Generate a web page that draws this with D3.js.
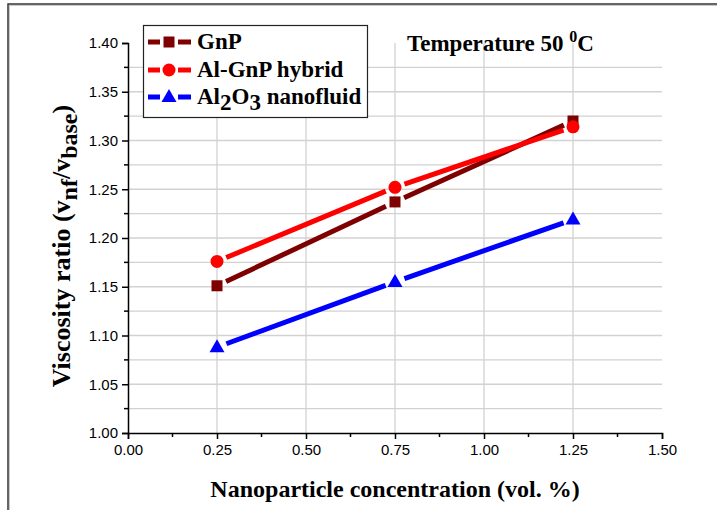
<!DOCTYPE html>
<html><head><meta charset="utf-8">
<script src="https://cdn.jsdelivr.net/npm/d3@7"></script>
<style>body{margin:0;background:#fff}svg{display:block}</style>
</head><body>
<svg id="c" width="717" height="510"></svg>
<script>
const xValues = [0.25, 0.75, 1.25];
const gnp = [1.151, 1.237, 1.320];
const hybrid = [1.176, 1.252, 1.314];
const al2o3 = [1.088, 1.155, 1.219];
const xTicks = [0, 0.25, 0.5, 0.75, 1.0, 1.25, 1.5];
const yTicks = [1.00, 1.05, 1.10, 1.15, 1.20, 1.25, 1.30, 1.35, 1.40];

const series = [
  {name: "GnP", values: gnp, color: "#7f0000", shape: "square"},
  {name: "Al-GnP hybrid", values: hybrid, color: "#ff0000", shape: "circle"},
  {name: "Al2O3", values: al2o3, color: "#0000ff", shape: "triangle"}
];

const svg = d3.select("#c");
const x = d3.scaleLinear().domain([0, 1.5]).range([128, 662]);
const y = d3.scaleLinear().domain([1.0, 1.4]).range([433, 43]);
const serif = "Liberation Serif, Times New Roman, serif";

// outer frame
svg.append("rect").attr("x", 9.5).attr("y", 5.5).attr("width", 800).attr("height", 600)
  .attr("fill", "none").attr("stroke", "#c8c8c8").attr("stroke-width", 1);
svg.append("rect").attr("x", 8).attr("y", 4).attr("width", 800).attr("height", 600)
  .attr("fill", "none").attr("stroke", "#333").attr("stroke-width", 1.5);

// gridlines
const hGrid = d3.range(1.025, 1.39, 0.025);
svg.append("g").selectAll("line").data(hGrid).join("line")
  .attr("x1", x(0)).attr("x2", x(1.5))
  .attr("y1", d => y(d)).attr("y2", d => y(d))
  .attr("stroke", "#d2d2d2").attr("stroke-width", 1.3);
const vGrid = [0.25, 0.5, 0.75, 1.0, 1.25];
svg.append("g").selectAll("line").data(vGrid).join("line")
  .attr("y1", y(1.0)).attr("y2", y(1.4))
  .attr("x1", d => x(d)).attr("x2", d => x(d))
  .attr("stroke", "#d2d2d2").attr("stroke-width", 1.3);

// axes
const xAxis = d3.axisBottom(x).tickValues(xTicks).tickFormat(d3.format(".2f")).tickSize(6).tickPadding(5);
const yAxis = d3.axisLeft(y).tickValues(yTicks).tickFormat(d3.format(".2f")).tickSize(6).tickPadding(4);
const gx = svg.append("g").attr("transform", `translate(0,${y(1.0)})`).call(xAxis);
const gy = svg.append("g").attr("transform", `translate(${x(0)},0)`).call(yAxis);
[gx, gy].forEach(g => {
  g.select(".domain").attr("stroke", "#000").attr("stroke-width", 1.5);
  g.selectAll(".tick line").attr("stroke", "#000").attr("stroke-width", 1.5);
  g.selectAll(".tick text").attr("font-family", "Liberation Sans, Arial, sans-serif")
    .attr("font-size", 15).attr("fill", "#000");
});
// minor ticks
svg.append("g").selectAll("line").data(d3.range(0.125, 1.5, 0.25)).join("line")
  .attr("x1", d => x(d)).attr("x2", d => x(d))
  .attr("y1", y(1.0)).attr("y2", y(1.0) + 4)
  .attr("stroke", "#000").attr("stroke-width", 1.5);
svg.append("g").selectAll("line").data(d3.range(1.025, 1.4, 0.05)).join("line")
  .attr("y1", d => y(d)).attr("y2", d => y(d))
  .attr("x1", x(0)).attr("x2", x(0) - 4)
  .attr("stroke", "#000").attr("stroke-width", 1.5);

// marker drawing
function marker(g, shape, color, cx, cy) {
  if (shape === "square") {
    g.append("rect").attr("x", cx - 5.5).attr("y", cy - 5.5).attr("width", 11).attr("height", 11).attr("fill", color);
  } else if (shape === "circle") {
    g.append("circle").attr("cx", cx).attr("cy", cy).attr("r", 6.5).attr("fill", color);
  } else {
    g.append("path").attr("d", `M${cx},${cy - 8}L${cx + 7.5},${cy + 5}L${cx - 7.5},${cy + 5}Z`).attr("fill", color);
  }
}

const gap = 10;
series.forEach(s => {
  const g = svg.append("g");
  const pts = xValues.map((xv, i) => [x(xv), y(s.values[i])]);
  for (let i = 0; i < pts.length - 1; i++) {
    const [x1, y1] = pts[i], [x2, y2] = pts[i + 1];
    const dx = x2 - x1, dy = y2 - y1, L = Math.hypot(dx, dy);
    const ux = dx / L, uy = dy / L;
    g.append("line")
      .attr("x1", x1 + ux * gap).attr("y1", y1 + uy * gap)
      .attr("x2", x2 - ux * gap).attr("y2", y2 - uy * gap)
      .attr("stroke", s.color).attr("stroke-width", 5);
  }
  pts.forEach(p => marker(g, s.shape, s.color, p[0], p[1]));
});

// legend
const lg = svg.append("g");
lg.append("rect").attr("x", 143.5).attr("y", 25.5).attr("width", 224).attr("height", 92)
  .attr("fill", "#fff").attr("stroke", "#222").attr("stroke-width", 1.2);
const rowY = [42, 70, 97];
series.forEach((s, i) => {
  const cy = rowY[i];
  lg.append("line").attr("x1", 148).attr("x2", 160).attr("y1", cy).attr("y2", cy).attr("stroke", s.color).attr("stroke-width", 5);
  lg.append("line").attr("x1", 178).attr("x2", 191).attr("y1", cy).attr("y2", cy).attr("stroke", s.color).attr("stroke-width", 5);
  marker(lg, s.shape, s.color, 169, cy);
  const t = lg.append("text").attr("x", 197).attr("y", cy + 7)
    .attr("font-family", serif).attr("font-weight", "bold")
    .attr("font-size", 23).attr("fill", "#000");
  if (s.name === "Al2O3") {
    t.append("tspan").text("Al");
    t.append("tspan").attr("dy", 6).text("2");
    t.append("tspan").attr("dy", -6).text("O");
    t.append("tspan").attr("dy", 6).text("3");
    t.append("tspan").attr("dy", -6).text(" nanofluid");
  } else {
    t.text(s.name);
  }
});

// title
const tt = svg.append("text").attr("x", 407).attr("y", 51)
  .attr("font-family", serif).attr("font-weight", "bold")
  .attr("font-size", 23).attr("fill", "#000");
tt.append("tspan").text("Temperature 50 ");
tt.append("tspan").attr("dy", -9).attr("font-size", 16).text("0");
tt.append("tspan").attr("dy", 9).text("C");

// x title
svg.append("text").attr("x", 395).attr("y", 497).attr("text-anchor", "middle")
  .attr("font-family", serif).attr("font-weight", "bold")
  .attr("font-size", 24).attr("fill", "#000")
  .text("Nanoparticle concentration (vol. %)");

// y title
const yt = svg.append("text").attr("transform", "translate(70,246) rotate(-90)").attr("text-anchor", "middle")
  .attr("font-family", serif).attr("font-weight", "bold")
  .attr("font-size", 26).attr("fill", "#000");
yt.append("tspan").text("Viscosity ratio (v");
yt.append("tspan").attr("dy", 7).attr("font-size", 24).text("nf");
yt.append("tspan").attr("dy", -7).text("/v");
yt.append("tspan").attr("dy", 7).attr("font-size", 24).text("base");
yt.append("tspan").attr("dy", -7).text(")");
</script>
</body></html>
